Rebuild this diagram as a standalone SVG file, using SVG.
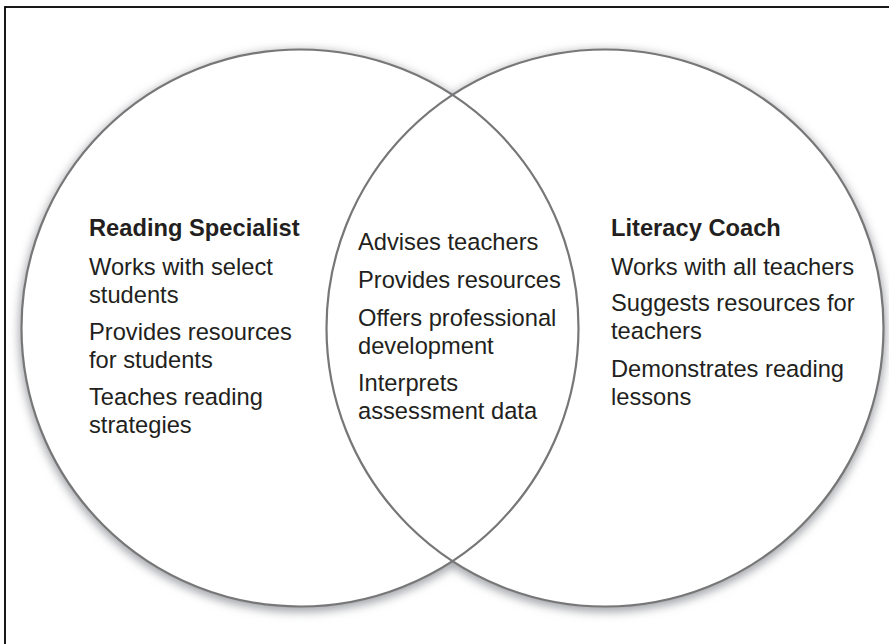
<svg xmlns="http://www.w3.org/2000/svg" width="889" height="644" viewBox="0 0 889 644">
<defs>
<filter id="sh" x="-20%" y="-20%" width="140%" height="140%">
<feGaussianBlur stdDeviation="5"/>
</filter>
<style>
.t{font-family:"Liberation Sans",Arial,sans-serif;font-size:23.7px;fill:#231f20}
.b{font-weight:bold}
.ring{fill:none;stroke:#777;stroke-width:2.2}
</style>
</defs>
<rect x="0" y="0" width="889" height="644" fill="#fff"/>
<rect x="5" y="7" width="892" height="650" fill="none" stroke="#000" stroke-width="1.8"/>
<g id="shadow" filter="url(#sh)" fill="#a4a6ab">
<circle cx="300" cy="331" r="281"/>
<circle cx="605" cy="331" r="281"/>
</g>
<g id="fills" fill="#fff">
<circle cx="300" cy="328" r="278.5"/>
<circle cx="605" cy="328" r="278.5"/>
</g>
<g id="reading-specialist">
<circle class="ring" cx="300" cy="328" r="278.5"/>
<text class="t b" x="89" y="236">Reading Specialist</text>
<text class="t" x="89" y="275">Works with select</text>
<text class="t" x="89" y="303">students</text>
<text class="t" x="89" y="340">Provides resources</text>
<text class="t" x="89" y="368">for students</text>
<text class="t" x="89" y="405">Teaches reading</text>
<text class="t" x="89" y="433">strategies</text>
</g>
<g id="literacy-coach">
<circle class="ring" cx="605" cy="328" r="278.5"/>
<text class="t b" x="611" y="236">Literacy Coach</text>
<text class="t" x="611" y="275">Works with all teachers</text>
<text class="t" x="611" y="311">Suggests resources for</text>
<text class="t" x="611" y="339">teachers</text>
<text class="t" x="611" y="377">Demonstrates reading</text>
<text class="t" x="611" y="405">lessons</text>
</g>
<g id="shared">
<text class="t" x="358" y="250">Advises teachers</text>
<text class="t" x="358" y="288">Provides resources</text>
<text class="t" x="358" y="326">Offers professional</text>
<text class="t" x="358" y="354">development</text>
<text class="t" x="358" y="391">Interprets</text>
<text class="t" x="358" y="419">assessment data</text>
</g>
<g id="connectors"></g>
</svg>
